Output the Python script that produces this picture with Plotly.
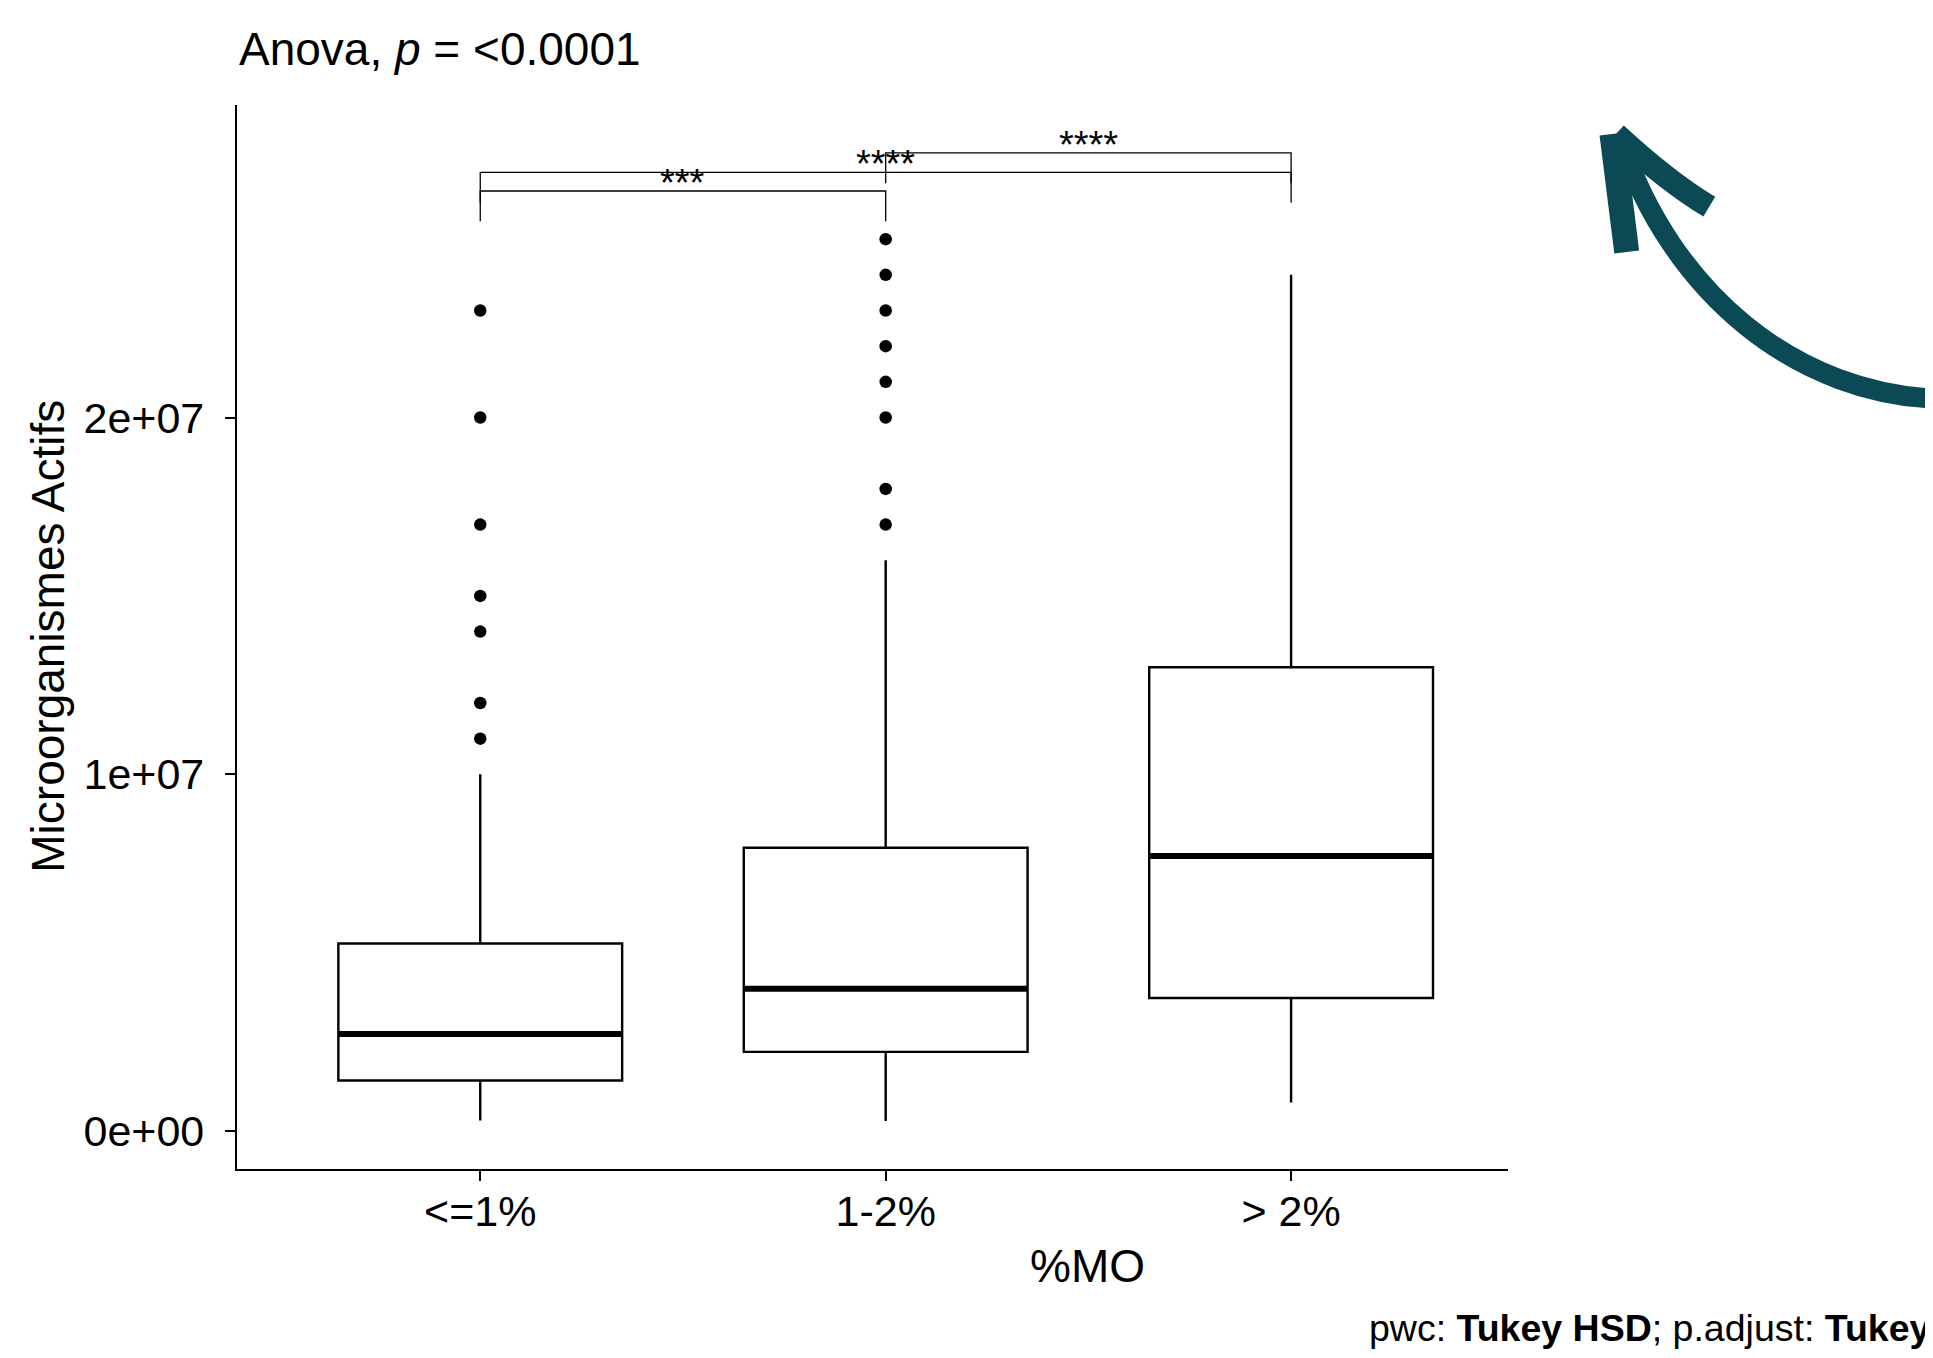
import plotly.graph_objects as go

# ---------------- data ----------------
categories = ["&lt;=1%", "1-2%", "&gt; 2%"]
q1 = [1.42e6, 2.22e6, 3.73e6]
medians = [2.72e6, 3.99e6, 7.71e6]
q3 = [5.26e6, 7.94e6, 13.0e6]
lower_whisker = [0.30e6, 0.28e6, 0.80e6]
upper_whisker = [10.0e6, 16.0e6, 24.0e6]
outliers_le1 = [11e6, 12e6, 14e6, 15e6, 17e6, 20e6, 23e6]
outliers_1_2 = [17e6, 18e6, 20e6, 21e6, 22e6, 23e6, 24e6, 25e6]
outliers_gt2 = []
outliers = [outliers_le1, outliers_1_2, outliers_gt2]

cmp_group1 = [0, 0, 1]
cmp_group2 = [1, 2, 2]
cmp_y = [26.35e6, 26.87e6, 27.42e6]
cmp_labels = ["***", "****", "****"]
tip_len = 0.85e6

y_tickvals = [0, 1e7, 2e7]
y_ticktext = ["0e+00", "1e+07", "2e+07"]

# ---------------- layout geometry ----------------
OFF = 8                      # default body margin of the html page
W, H = 1933 - OFF, 1358 - OFF
ML = 237 - OFF
MT = 105 - OFF
MR = W - (1508 - OFF)
MB = H - (1169 - OFF)
PW, PH = W - ML - MR, H - MT - MB
FONT = "Liberation Sans, Arial, sans-serif"
BOX_W = 0.7
ARROW_COLOR = "#0b4954"


def px(x, y):
    """page pixel position -> paper coordinates"""
    x, y = x - OFF, y - OFF
    return (x - ML) / PW, (H - MB - y) / PH


fig = go.Figure()

for i, cat in enumerate(categories):
    fig.add_trace(go.Box(
        x=[i], q1=[q1[i]], median=[medians[i]], q3=[q3[i]],
        lowerfence=[lower_whisker[i]], upperfence=[upper_whisker[i]],
        width=BOX_W, whiskerwidth=0, boxpoints=False,
        fillcolor="white", line=dict(color="black", width=2.4),
        showlegend=False, hoverinfo="skip",
    ))
    # thick median line
    fig.add_trace(go.Scatter(
        x=[i - BOX_W / 2, i + BOX_W / 2], y=[medians[i], medians[i]],
        mode="lines", line=dict(color="black", width=6),
        showlegend=False, hoverinfo="skip",
    ))
    if outliers[i]:
        fig.add_trace(go.Scatter(
            x=[i] * len(outliers[i]), y=outliers[i], mode="markers",
            marker=dict(color="black", size=12.5),
            showlegend=False, hoverinfo="skip",
        ))

# significance brackets
for a, b, yb, lab in zip(cmp_group1, cmp_group2, cmp_y, cmp_labels):
    fig.add_trace(go.Scatter(
        x=[a, a, b, b], y=[yb - tip_len, yb, yb, yb - tip_len],
        mode="lines", line=dict(color="black", width=1.3),
        showlegend=False, hoverinfo="skip", cliponaxis=False,
    ))
    fig.add_annotation(
        x=(a + b) / 2, y=yb, text=lab, showarrow=False,
        xanchor="center", yanchor="middle", yshift=8,
        font=dict(family=FONT, size=38, color="black"),
    )

annotations_text = [
    # title
    dict(pos=(237, 49), text="Anova, <i>p</i> = &lt;0.0001", size=46,
         xanchor="left", angle=0),
    # x title
    dict(pos=(1087, 1265.5), text="%MO", size=46, xanchor="center", angle=0),
    # y title
    dict(pos=(48, 636.7), text="Microorganismes Actifs", size=46,
         xanchor="center", angle=-90),
    # caption
    dict(pos=(1367, 1328), text="pwc: <b>Tukey HSD</b>; p.adjust: <b>Tukey HSD</b>",
         size=37.5, xanchor="left", angle=0),
]
for a in annotations_text:
    xp, yp = px(*a["pos"])
    fig.add_annotation(
        xref="paper", yref="paper", x=xp, y=yp, text=a["text"],
        showarrow=False, xanchor=a["xanchor"], yanchor="middle",
        textangle=a["angle"],
        font=dict(family=FONT, size=a["size"], color="black"),
    )

# decorative curved arrow
c0, c1, c2, c3 = [px(x, y) for x, y in [(1950, 399), (1793, 399), (1670, 287), (1621.7, 143)]]
fig.add_shape(type="path", xref="paper", yref="paper",
              path=f"M {c0[0]},{c0[1]} C {c1[0]},{c1[1]} {c2[0]},{c2[1]} {c3[0]},{c3[1]}",
              line=dict(color=ARROW_COLOR, width=20))
l0, l1 = px(1612, 134), px(1626.7, 252)
fig.add_shape(type="path", xref="paper", yref="paper",
              path=f"M {l0[0]},{l0[1]} L {l1[0]},{l1[1]}",
              line=dict(color=ARROW_COLOR, width=25))
r0, rm, r1 = px(1616, 134), px(1668, 182), px(1709.3, 206.7)
fig.add_shape(type="path", xref="paper", yref="paper",
              path=f"M {r0[0]},{r0[1]} Q {rm[0]},{rm[1]} {r1[0]},{r1[1]}",
              line=dict(color=ARROW_COLOR, width=23))

fig.update_layout(
    width=W, height=H,
    margin=dict(l=ML, r=MR, t=MT, b=MB, autoexpand=False),
    paper_bgcolor="white", plot_bgcolor="white",
    showlegend=False,
    font=dict(family=FONT, color="black"),
    xaxis=dict(
        range=[-0.6, 2.535], tickmode="array", tickvals=list(range(len(categories))),
        ticktext=categories, showgrid=False, zeroline=False,
        showline=True, linecolor="black", linewidth=2.2,
        ticks="outside", ticklen=10, tickwidth=2.2, tickcolor="black",
        tickfont=dict(family=FONT, size=43, color="black"),
        ticklabelstandoff=-7, automargin=False, fixedrange=True,
    ),
    yaxis=dict(
        range=[-1.062e6, 28.76e6], tickmode="array", tickvals=y_tickvals,
        ticktext=y_ticktext, showgrid=False, zeroline=False,
        showline=True, linecolor="black", linewidth=2.2,
        ticks="outside", ticklen=10, tickwidth=2.2, tickcolor="black",
        tickfont=dict(family=FONT, size=43, color="black"),
        ticklabelstandoff=12, automargin=False, fixedrange=True,
    ),
)

fig.write_html("out.html")
